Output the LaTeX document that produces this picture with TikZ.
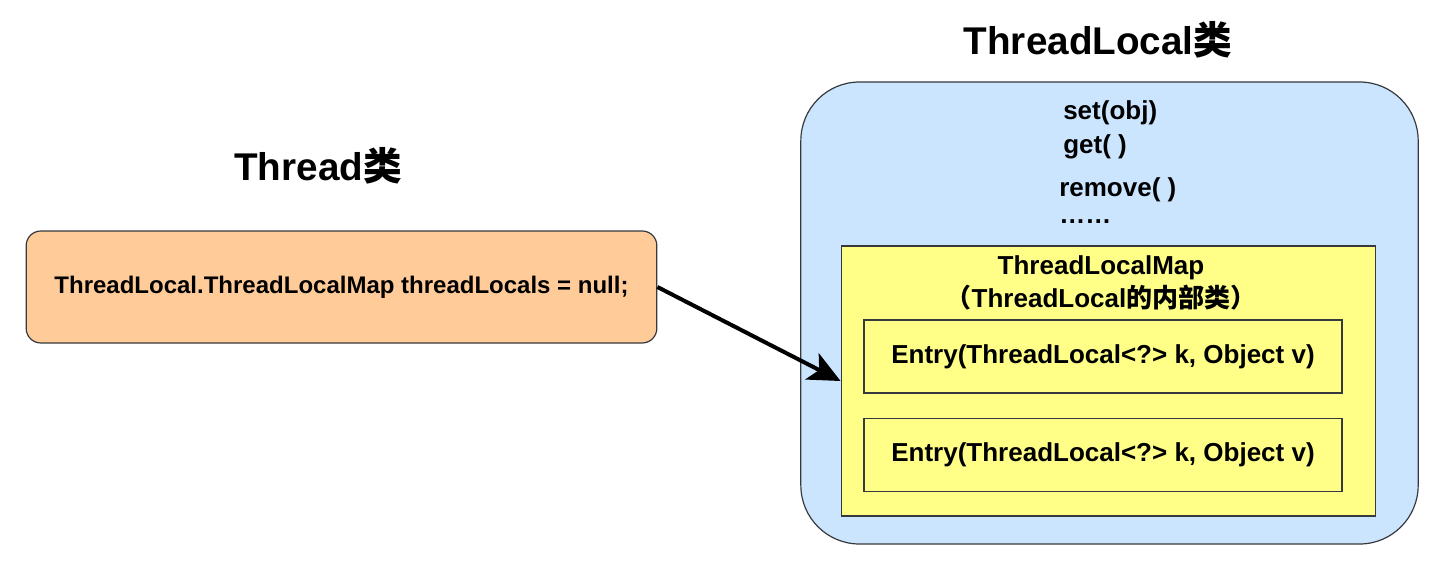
\documentclass[tikz,border=0pt]{standalone}
\usepackage{fontspec}
\setmainfont{Liberation Sans}
\newfontfamily\cjk{Noto Sans CJK SC}
\usetikzlibrary{positioning,arrows.meta}
\definecolor{tlorange}{HTML}{FFCC99}
\definecolor{tlblue}{HTML}{CCE5FF}
\definecolor{tlyellow}{HTML}{FFFF88}
\definecolor{tledge}{HTML}{36393D}

\begin{document}
\begin{tikzpicture}[
  x=0.75pt, y=-0.75pt,
  box/.style={draw=tledge,line width=0.9pt,inner sep=0pt},
  title/.style={font=\fontsize{29}{34}\selectfont\bfseries},
  method/.style={anchor=west,inner sep=0pt,font=\fontsize{19.5}{23}\selectfont\bfseries},
  entrybox/.style={box,fill=tlyellow,minimum width=358.5pt,minimum height=54.75pt,
                   font=\fontsize{19.5}{23}\selectfont\bfseries}
]
  \useasboundingbox (0,0) rectangle (1455,567);

  % Thread class
  \node[title] (threadtitle) at (318,166) {Thread{\cjk 类}};
  \node[box,fill=tlorange,rounded corners=11pt,minimum width=473pt,minimum height=84pt,
        font=\fontsize{18}{22}\selectfont\bfseries] (thread) at (341.5,287)
        {ThreadLocal.ThreadLocalMap threadLocals = null;};

  % ThreadLocal class
  \node[title] (tltitle) at (1098,40) {ThreadLocal{\cjk 类}};
  \node[box,fill=tlblue,rounded corners=44pt,minimum width=463pt,minimum height=346.5pt] (tl) at (1109.5,313) {};
  \node[method] (set) at (1063,113) {set(obj)};
  \node[method] (get) at (1063,147) {get( )};
  \node[method] (remove) at (1059,190) {remove( )};
  \node[method] (more) at (1059,222) {……};

  % inner map
  \node[box,fill=tlyellow,minimum width=401pt,minimum height=202.5pt] (map) at (1108.5,381) {};
  \node[align=center,inner sep=0pt,font=\fontsize{19.5}{24.75}\selectfont\bfseries] (maptitle) at (1101,283)
       {ThreadLocalMap\\{\cjk （}ThreadLocal{\cjk 的内部类）}};
  \node[entrybox] (entry1) at (1103,356.5) {Entry(ThreadLocal<?> k, Object v)};
  \node[entrybox, below=18pt of entry1] (entry2) {Entry(ThreadLocal<?> k, Object v)};

  \draw[line width=3pt,-{Stealth[length=24pt,width=22pt,inset=6pt]}] (thread.east) -- (map.west);
\end{tikzpicture}
\end{document}
